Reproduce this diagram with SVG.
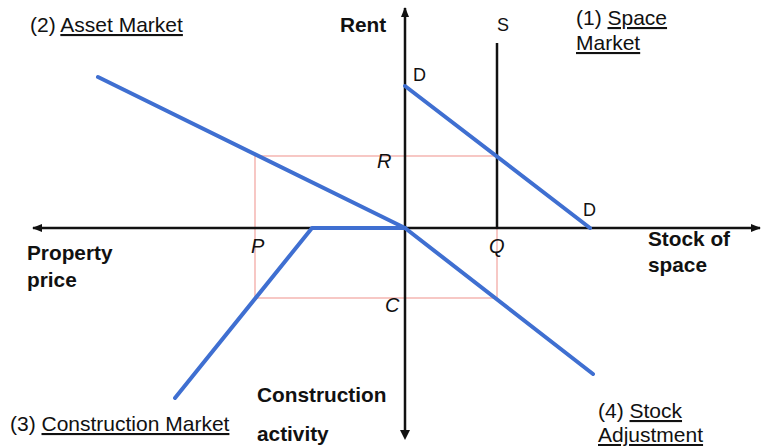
<svg xmlns="http://www.w3.org/2000/svg" width="768" height="446" viewBox="0 0 768 446">
<style>
.lbl{font-family:"Liberation Sans",Arial,sans-serif;font-size:21px;fill:#111}
.b{font-weight:bold;font-size:20.8px}
.s{font-size:18px}
.i{font-style:italic;font-size:20px}
.u{text-decoration:underline}
.blue{stroke:#3f6fd1;stroke-width:4;fill:none;stroke-linecap:round;stroke-linejoin:round}
.ax{stroke:#111;stroke-width:2.5;fill:none}
.red{stroke:#f2a39e;stroke-width:1.2;fill:none}
</style>
<defs>
<marker id="ah" markerWidth="10" markerHeight="8" refX="9" refY="4" orient="auto" markerUnits="userSpaceOnUse">
<path d="M0,0 L10,4 L0,8 Z" fill="#111"/>
</marker>
</defs>
<rect width="768" height="446" fill="#fff"/>
<g id="guides">
<rect class="red" x="255" y="156" width="242" height="142"/>
</g>
<g id="axes">
<line class="ax" x1="405" y1="432" x2="405" y2="8" marker-end="url(#ah)"/>
<path d="M400,430 L405,440 L410,430 Z" fill="#111"/>
<line class="ax" x1="405" y1="228" x2="760" y2="228" marker-end="url(#ah)"/>
<line class="ax" x1="405" y1="228" x2="33" y2="228" marker-end="url(#ah)"/>
<line class="ax" x1="497" y1="43" x2="497" y2="228"/>
</g>
<g id="connectors">
<polyline class="blue" points="405,86 590,228"/>
<polyline class="blue" points="98,77 405,228"/>
<polyline class="blue" points="405,228 312,228 175,398"/>
<polyline class="blue" points="405,228 593,374"/>
</g>
<g id="labels">
<text class="lbl" x="30" y="32">(2) <tspan class="u">Asset Market</tspan></text>
<text class="lbl b" x="340" y="32">Rent</text>
<text class="lbl s" x="497" y="31">S</text>
<text class="lbl" x="576" y="25">(1) <tspan class="u">Space</tspan></text>
<text class="lbl u" x="576" y="50">Market</text>
<text class="lbl s" x="413" y="81">D</text>
<text class="lbl s" x="583" y="216">D</text>
<text class="lbl i" x="377" y="168">R</text>
<text class="lbl i" x="251" y="253">P</text>
<text class="lbl i" x="489" y="253">Q</text>
<text class="lbl i" x="385" y="312">C</text>
<text class="lbl b" x="27" y="260">Property</text>
<text class="lbl b" x="27" y="287">price</text>
<text class="lbl b" x="648" y="246">Stock of</text>
<text class="lbl b" x="648" y="272">space</text>
<text class="lbl b" x="257" y="402">Construction</text>
<text class="lbl b" x="257" y="441">activity</text>
<text class="lbl" x="10" y="431">(3) <tspan class="u">Construction Market</tspan></text>
<text class="lbl" x="598" y="418">(4) <tspan class="u">Stock</tspan></text>
<text class="lbl u" x="598" y="442">Adjustment</text>
</g>
</svg>
